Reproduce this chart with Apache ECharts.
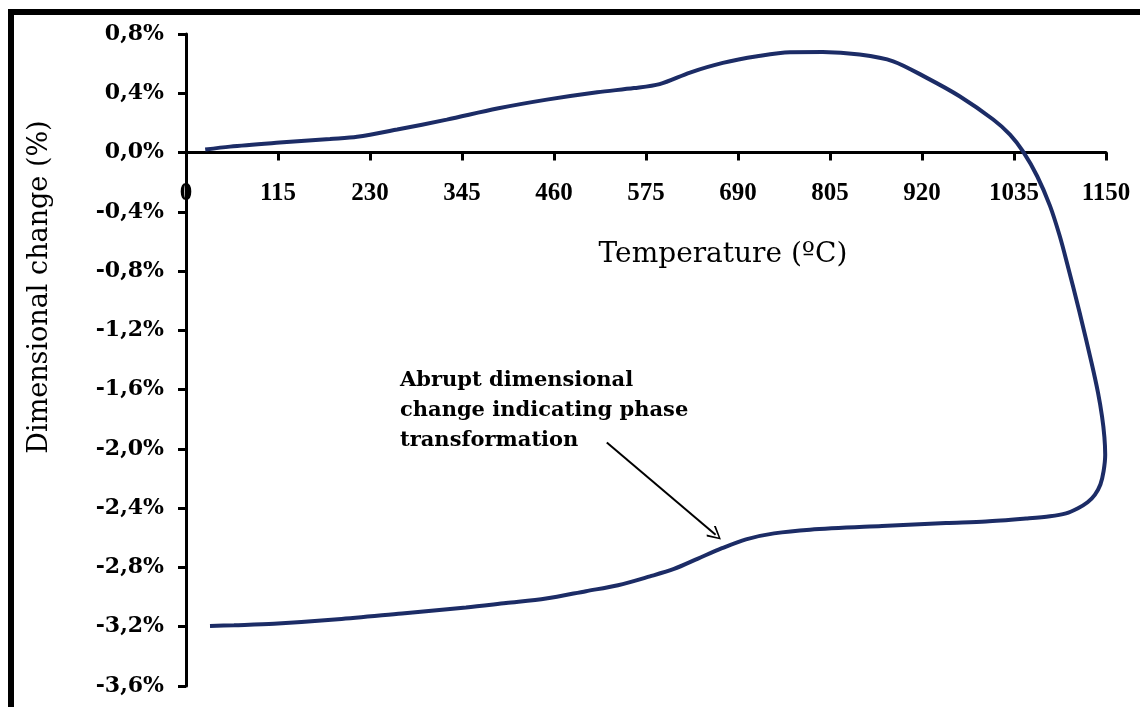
<!DOCTYPE html>
<html>
<head>
<meta charset="utf-8">
<script src="https://cdn.jsdelivr.net/npm/echarts@6/dist/echarts.min.js"></script>
<style>
html,body{margin:0;padding:0;background:#fff;}
#c{width:1140px;height:707px;}
</style>
</head>
<body>
<div id="c"></div>
<script>
// Heating branch (temperature °C, dimensional change %)
const heatT = [24, 55, 117, 180, 214, 264, 326, 389, 451, 514, 560, 592, 630, 671, 714, 755, 796, 842, 884, 926, 967, 1009, 1030, 1046, 1064, 1080, 1092, 1101, 1117, 1132, 1140, 1145, 1148, 1149];
const heatD = [0.02, 0.04, 0.067, 0.092, 0.106, 0.155, 0.222, 0.297, 0.357, 0.407, 0.435, 0.462, 0.54, 0.605, 0.65, 0.677, 0.678, 0.661, 0.616, 0.504, 0.38, 0.223, 0.121, 0.009, -0.16, -0.36, -0.56, -0.74, -1.08, -1.42, -1.62, -1.78, -1.92, -2.04];
// Cooling branch
const coolT = [1147, 1143, 1136, 1127, 1115, 1100, 1080, 1050, 1000, 950, 870, 780, 735, 700, 670, 640, 610, 580, 540, 500, 450, 400, 350, 270, 190, 110, 60, 30];
const coolD = [-2.15, -2.24, -2.31, -2.36, -2.40, -2.435, -2.455, -2.47, -2.49, -2.50, -2.52, -2.545, -2.57, -2.61, -2.67, -2.74, -2.81, -2.86, -2.92, -2.96, -3.01, -3.04, -3.07, -3.11, -3.15, -3.18, -3.19, -3.195];
// Annotation arrow (data coordinates: start, end)
const arrowFrom = [526, -1.956];
const arrowTo = [662, -2.58];
const annotationLines = ['Abrupt dimensional', 'change indicating phase', 'transformation'];
const xTitle = 'Temperature (ºC)';
const yTitle = 'Dimensional change (%)';

const curve = [];
heatT.forEach((t, i) => curve.push([t, heatD[i]]));
coolT.forEach((t, i) => curve.push([t, coolD[i]]));

const chart = echarts.init(document.getElementById('c'));
const Y_MIN = -3.6, Y_MAX = 0.8;
const gridTop = 34, gridBottom = 21;
const plotH = 707 - gridTop - gridBottom;
const zeroOffset = -plotH * (0 - Y_MIN) / (Y_MAX - Y_MIN);

chart.setOption({
  backgroundColor: '#ffffff',
  animation: false,
  grid: {left: 186, right: 34, top: gridTop, bottom: gridBottom, containLabel: false, outerBoundsMode: 'none'},
  xAxis: {
    type: 'value', min: 0, max: 1150, interval: 115,
    position: 'bottom',
    offset: zeroOffset,
    axisLine: {show: true, onZero: false, lineStyle: {color: '#000', width: 3}},
    axisTick: {show: true, inside: false, length: 8, lineStyle: {color: '#000', width: 3}},
    axisLabel: {show: true, margin: 29, color: '#000', fontFamily: 'Liberation Serif', fontWeight: 'bold', fontSize: 25,
      showMinLabel: true, showMaxLabel: true, formatter: v => String(v)},
    splitLine: {show: false}
  },
  yAxis: {
    type: 'value', min: Y_MIN, max: Y_MAX, interval: 0.4,
    axisLine: {show: true, onZero: false, lineStyle: {color: '#000', width: 3}},
    axisTick: {show: true, inside: false, length: 8, lineStyle: {color: '#000', width: 3}},
    axisLabel: {show: true, margin: 22, color: '#000', fontFamily: 'DejaVu Serif', fontWeight: 'bold', fontSize: 22,
      formatter: v => (Math.round(v * 10) / 10).toFixed(1).replace('.', ',') + '%'},
    splitLine: {show: false}
  },
  series: [{
    type: 'line',
    data: curve,
    showSymbol: false,
    smooth: 0.3,
    lineStyle: {color: '#1c2c66', width: 4},
    markLine: {
      silent: true,
      symbol: ['none', 'path://M5,0 L10,9 L9,10 L5,2.2 L1,10 L0,9 Z'],
      symbolSize: [14, 14],
      label: {show: false},
      lineStyle: {color: '#000', width: 2, type: 'solid'},
      itemStyle: {color: '#000'},
      data: [[{coord: arrowFrom}, {coord: arrowTo}]]
    }
  }],
  graphic: [
    {type: 'polyline', shape: {points: [[11, 707], [11, 12], [1140, 12]]}, style: {stroke: '#000', lineWidth: 6, fill: null}},
    {type: 'text', x: 723, y: 255, style: {text: xTitle, font: '28px "DejaVu Serif"', fill: '#000', align: 'center', verticalAlign: 'middle'}},
    {type: 'text', x: 40, y: 287, rotation: Math.PI / 2, style: {text: yTitle, font: '27px "DejaVu Serif"', fill: '#000', align: 'center', verticalAlign: 'middle'}},
    {type: 'text', left: 400, top: 366, style: {text: annotationLines.join('\n'), font: 'bold 21px "DejaVu Serif"', lineHeight: 30, fill: '#000'}}
  ]
});
</script>
</body>
</html>
